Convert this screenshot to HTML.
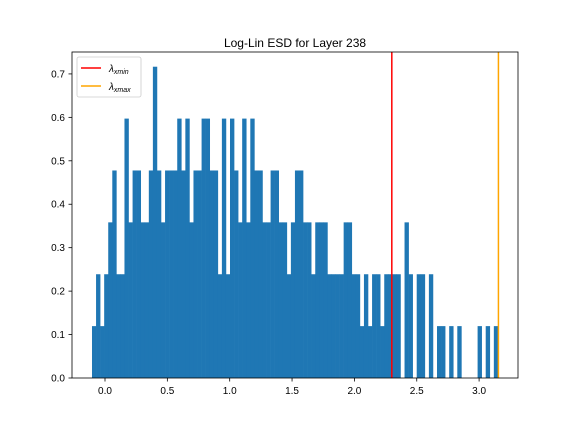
<!DOCTYPE html>
<html><head><meta charset="utf-8"><style>
body{margin:0;background:#fff;}
svg{display:block;font-family:"Liberation Sans","DejaVu Sans",sans-serif;}
</style></head><body>
<svg id="chart" width="576" height="432" viewBox="0 0 576 432">
<rect width="576" height="432" fill="#fff"/>
<text x="295" y="47" text-anchor="middle" font-size="12" fill="#000">Log-Lin ESD for Layer 238</text>
<g id="bars"></g>
<g id="lines"></g>
<rect x="72" y="52" width="446" height="326" fill="none" stroke="#000" stroke-width="0.8"/>
<g id="xt"></g>
<g id="yt"></g>
<g>
<rect x="77" y="57" width="64" height="40" rx="2" fill="#fff" fill-opacity="0.8" stroke="#ccc" stroke-width="0.8"/>
<line x1="81" y1="68" x2="101" y2="68" stroke="red" stroke-width="1.5"/>
<text x="109" y="72" font-size="10" font-style="italic">λ<tspan font-size="7" dy="2">xmin</tspan></text>
<line x1="81" y1="86" x2="101" y2="86" stroke="orange" stroke-width="1.5"/>
<text x="109" y="90" font-size="10" font-style="italic">λ<tspan font-size="7" dy="2">xmax</tspan></text>
</g>
</svg>
<script>
const binStart = -0.1043;
const binWidth = 0.03255;
const counts = [1,2,1,2,3,4,2,2,5,3,4,4,3,3,4,6,4,3,4,4,4,5,4,5,3,4,4,5,5,4,4,2,5,2,5,4,3,5,3,5,4,4,3,3,4,4,3,3,2,3,4,4,3,3,2,3,3,3,2,2,2,2,3,3,2,2,1,2,1,2,2,1,2,2,2,2,0,3,2,0,2,2,0,2,0,1,1,0,1,0,1,0,0,0,0,1,0,1,0,1];
const densityUnit = 0.11943;
const xTicks = [0.0,0.5,1.0,1.5,2.0,2.5,3.0];
const yTicks = [0.0,0.1,0.2,0.3,0.4,0.5,0.6,0.7];
const lambdaXmin = 2.30;
const lambdaXmax = 3.155;
const NS="http://www.w3.org/2000/svg";
function xs(v){return 105+v*124.7;}
function ys(v){return 378-v*434.4;}
const bars=document.getElementById('bars');
counts.forEach((c,i)=>{
  if(!c)return;
  const d=c*densityUnit;
  const r=document.createElementNS(NS,'rect');
  const x0=xs(binStart+i*binWidth), x1=xs(binStart+(i+1)*binWidth);
  r.setAttribute('x',x0);r.setAttribute('width',x1-x0+0.3);
  r.setAttribute('y',ys(d));r.setAttribute('height',ys(0)-ys(d));
  r.setAttribute('fill','#1f77b4');
  
  
  bars.appendChild(r);
});
const lines=document.getElementById('lines');
[[lambdaXmin,'red','xmin-line'],[lambdaXmax,'orange','xmax-line']].forEach(([v,c,n])=>{
  const l=document.createElementNS(NS,'line');
  l.setAttribute('x1',xs(v));l.setAttribute('x2',xs(v));l.setAttribute('y1',52);l.setAttribute('y2',378);
  l.setAttribute('stroke',c);l.setAttribute('stroke-width',1.5);
  
  
  lines.appendChild(l);
});
const xt=document.getElementById('xt');
xTicks.forEach(v=>{
  const x=xs(v);
  const l=document.createElementNS(NS,'line');
  l.setAttribute('x1',x);l.setAttribute('x2',x);l.setAttribute('y1',378);l.setAttribute('y2',381.5);l.setAttribute('stroke','#000');l.setAttribute('stroke-width',0.8);
  
  
  xt.appendChild(l);
  const t=document.createElementNS(NS,'text');
  t.setAttribute('x',x);t.setAttribute('y',394);t.setAttribute('text-anchor','middle');t.setAttribute('font-size','10');
  t.textContent=v.toFixed(1);
  
  
  xt.appendChild(t);
});
const yt=document.getElementById('yt');
yTicks.forEach(v=>{
  const y=ys(v);
  const l=document.createElementNS(NS,'line');
  l.setAttribute('x1',68.5);l.setAttribute('x2',72);l.setAttribute('y1',y);l.setAttribute('y2',y);l.setAttribute('stroke','#000');l.setAttribute('stroke-width',0.8);
  
  
  yt.appendChild(l);
  const t=document.createElementNS(NS,'text');
  t.setAttribute('x',65);t.setAttribute('y',y+3.5);t.setAttribute('text-anchor','end');t.setAttribute('font-size','10');
  t.textContent=v.toFixed(1);
  
  
  yt.appendChild(t);
});
</script>
</body></html>
